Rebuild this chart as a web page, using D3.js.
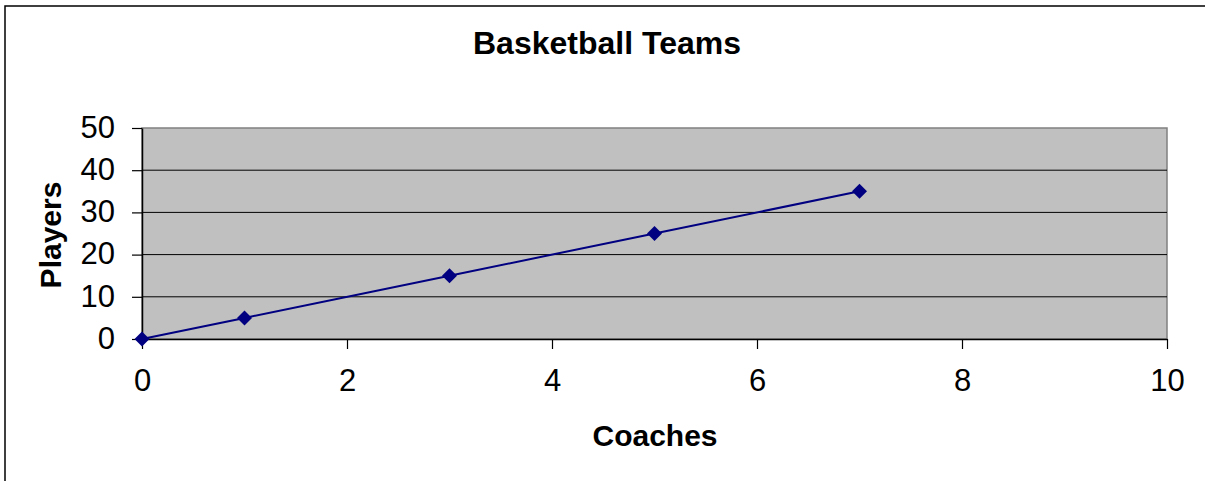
<!DOCTYPE html>
<html>
<head>
<meta charset="utf-8">
<script src="https://cdn.jsdelivr.net/npm/d3@7"></script>
<style>
  body { margin: 0; background: #fff; overflow: hidden; }
  svg { display: block; overflow: hidden; font-family: "Liberation Sans", Arial, sans-serif; }
</style>
</head>
<body>
<svg id="drawing_region"></svg>
<script>
const coaches = [0, 1, 3, 5, 7];
const players = [0, 5, 15, 25, 35];
const xTicks = [0, 2, 4, 6, 8, 10];
const yTicks = [0, 10, 20, 30, 40, 50];

const config = {
    width: 1205,
    height: 481,
    margin: {top: 128, right: 38, bottom: 142, left: 142},
    title: 'Basketball Teams',
    xlabel: 'Coaches',
    ylabel: 'Players'
};

const data = coaches.map((c, i) => ({x: c, y: players[i]}));

const svg = d3.select('#drawing_region')
    .attr('width', config.width)
    .attr('height', config.height);

// outer chart frame (runs off the right / bottom edge)
svg.append('rect')
    .attr('x', 5).attr('y', 6)
    .attr('width', config.width + 100).attr('height', config.height + 100)
    .attr('fill', 'none')
    .attr('stroke', '#000')
    .attr('stroke-width', 1.5);

const inner_width = config.width - config.margin.left - config.margin.right;
const inner_height = config.height - config.margin.top - config.margin.bottom;

const chart = svg.append('g')
    .attr('transform', `translate(${config.margin.left}, ${config.margin.top})`);

const xscale = d3.scaleLinear().domain([0, 10]).range([0, inner_width]);
const yscale = d3.scaleLinear().domain([0, 50]).range([inner_height, 0]);

// plot area
chart.append('rect')
    .attr('width', inner_width)
    .attr('height', inner_height)
    .attr('fill', '#c0c0c0')
    .attr('stroke', '#808080')
    .attr('stroke-width', 1.5);

// gridlines
chart.selectAll('.grid')
    .data(yTicks.filter(d => d > 0 && d < 50))
    .enter()
    .append('line')
    .attr('x1', 0).attr('x2', inner_width)
    .attr('y1', d => yscale(d)).attr('y2', d => yscale(d))
    .attr('stroke', '#000')
    .attr('stroke-width', 1);

// axes
const xaxis = d3.axisBottom(xscale).tickValues(xTicks).tickSize(10).tickSizeOuter(0).tickPadding(20);
const yaxis = d3.axisLeft(yscale).tickValues(yTicks).tickSize(10).tickSizeOuter(0).tickPadding(17);

const xg = chart.append('g')
    .attr('transform', `translate(0, ${inner_height})`)
    .call(xaxis);
const yg = chart.append('g').call(yaxis);

[xg, yg].forEach(g => {
    g.select('.domain').attr('stroke', '#000').attr('stroke-width', 1.5);
    g.selectAll('.tick line').attr('stroke', '#000').attr('stroke-width', 1.2);
    g.selectAll('.tick text')
        .attr('fill', '#000')
        .attr('font-size', '31px')
        .attr('font-family', '"Liberation Sans", Arial, sans-serif');
});
yg.selectAll('.tick text').attr('dy', '0.3em');

// series line
const line = d3.line().x(d => xscale(d.x)).y(d => yscale(d.y));
chart.append('path')
    .datum(data)
    .attr('d', line)
    .attr('fill', 'none')
    .attr('stroke', '#000080')
    .attr('stroke-width', 2);

// diamond markers
const r = 7.5;
chart.selectAll('.marker')
    .data(data)
    .enter()
    .append('path')
    .attr('d', `M0,${-r}L${r},0L0,${r}L${-r},0Z`)
    .attr('transform', d => `translate(${xscale(d.x)}, ${yscale(d.y)})`)
    .attr('fill', '#000080');

// titles
svg.append('text')
    .attr('x', 607).attr('y', 54)
    .attr('text-anchor', 'middle')
    .attr('font-size', '32px')
    .attr('font-weight', 'bold')
    .text(config.title);

svg.append('text')
    .attr('x', 655).attr('y', 446)
    .attr('text-anchor', 'middle')
    .attr('font-size', '30px')
    .attr('font-weight', 'bold')
    .text(config.xlabel);

svg.append('text')
    .attr('transform', 'translate(61, 235) rotate(-90)')
    .attr('text-anchor', 'middle')
    .attr('font-size', '30px')
    .attr('font-weight', 'bold')
    .text(config.ylabel);
</script>
</body>
</html>
